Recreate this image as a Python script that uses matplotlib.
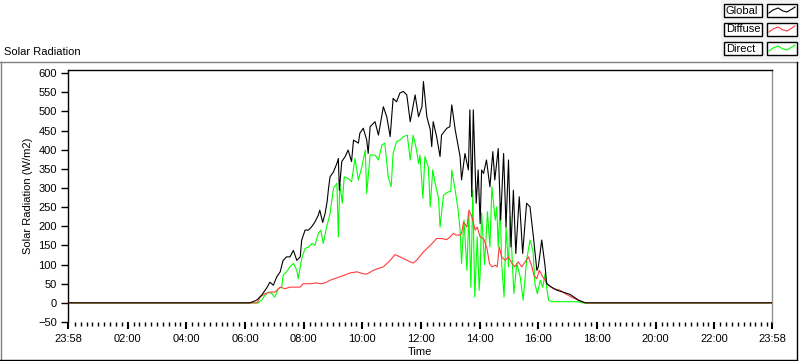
import matplotlib.pyplot as plt
from matplotlib.lines import Line2D
from matplotlib.patches import Rectangle
from matplotlib.ticker import FixedLocator, FuncFormatter

plt.rcParams['font.family'] = ['Liberation Sans', 'DejaVu Sans']

# time in minutes after midnight, values in W/m2
global_t = [-2, 370, 384, 394, 404, 411, 418, 425, 432, 438, 445, 452, 459, 466, 473, 476,
            483, 490, 496, 503, 510, 513, 519, 524, 528, 531, 534, 541, 548, 551, 553, 558,
            565, 571, 578, 582, 592, 595, 602, 609, 612, 616, 626, 633, 643, 650, 657, 663,
            670, 677, 684, 691, 698, 708, 715, 722, 725, 732, 739, 742, 745, 752, 759, 762,
            773, 779, 783, 790, 800, 803, 810, 817, 820, 824, 827, 833, 837, 841, 844, 848,
            854, 861, 867, 871, 878, 883, 889, 894, 899, 904, 909, 914, 921, 928, 936, 943,
            950, 957, 960, 967, 974, 977, 987, 998, 1011, 1025, 1042, 1052, 1056, 1438]
global_v = [0, 0, 7, 20, 38, 54, 46, 68, 81, 111, 120, 120, 137, 111, 120, 164,
            190, 190, 198, 211, 229, 242, 210, 234, 264, 300, 329, 342, 364, 377, 294, 369,
            382, 399, 369, 425, 417, 443, 456, 425, 390, 460, 473, 438, 512, 486, 434, 534,
            525, 548, 552, 543, 473, 543, 486, 512, 578, 486, 452, 408, 473, 434, 382, 438,
            456, 460, 517, 452, 382, 321, 390, 347, 504, 277, 504, 260, 347, 207, 347, 338,
            373, 303, 395, 321, 403, 216, 390, 198, 373, 146, 294, 129, 277, 129, 260, 251,
            172, 85, 94, 164, 94, 50, 41, 33, 28, 22, 7, 2, 0, 0]

diffuse_t = [-2, 385, 391, 401, 411, 421, 432, 442, 452, 473, 479, 493, 507, 514, 524, 534,
             554, 575, 589, 602, 609, 623, 633, 643, 657, 667, 677, 687, 698, 704, 711, 725,
             739, 752, 762, 773, 779, 786, 792, 800, 803, 807, 814, 818, 824, 831, 835, 841,
             848, 855, 860, 865, 872, 876, 880, 885, 892, 899, 906, 912, 919, 926, 933, 940,
             947, 951, 957, 962, 969, 974, 981, 991, 1004, 1015, 1028, 1042, 1052, 1056, 1438]
diffuse_v = [0, 0, 15, 24, 28, 28, 41, 37, 41, 41, 50, 50, 52, 50, 52, 59,
             68, 78, 81, 76, 75, 85, 90, 94, 111, 126, 120, 114, 107, 104, 111, 133,
             150, 168, 168, 165, 172, 181, 177, 177, 181, 211, 198, 242, 225, 190, 198, 172,
             168, 142, 103, 94, 98, 94, 146, 120, 111, 120, 103, 94, 107, 94, 107, 120,
             94, 72, 63, 85, 68, 59, 46, 37, 33, 24, 15, 7, 2, 0, 0]

direct_t = [-2, 387, 394, 401, 408, 415, 421, 428, 435, 438, 445, 452, 459, 466, 469, 476,
            483, 490, 497, 503, 510, 515, 520, 527, 534, 541, 548, 551, 554, 559, 563, 571,
            578, 585, 592, 599, 606, 609, 616, 626, 633, 640, 646, 653, 659, 663, 670, 677,
            684, 692, 698, 704, 711, 715, 718, 724, 728, 735, 739, 744, 749, 756, 759, 766,
            776, 781, 783, 790, 796, 800, 803, 808, 814, 818, 822, 826, 830, 835, 839, 841,
            844, 850, 856, 861, 865, 872, 875, 878, 882, 885, 890, 894, 899, 902, 906, 910,
            916, 923, 929, 936, 943, 949, 953, 958, 964, 969, 974, 977, 981, 988, 1018, 1042,
            1049, 1438]
direct_v = [0, 0, 7, 20, 28, 24, 15, 37, 41, 72, 81, 94, 103, 85, 63, 116,
            142, 146, 155, 150, 181, 190, 155, 198, 233, 299, 312, 172, 312, 260, 329, 325,
            316, 377, 321, 355, 399, 286, 386, 386, 373, 412, 417, 329, 303, 390, 421, 425,
            434, 438, 373, 438, 399, 364, 386, 273, 382, 355, 251, 347, 312, 273, 198, 281,
            290, 290, 347, 294, 242, 190, 103, 216, 85, 233, 41, 294, 15, 172, 33, 76,
            235, 100, 238, 146, 303, 216, 251, 146, 260, 103, 15, 198, 94, 225, 129, 24,
            103, 68, 7, 111, 164, 137, 50, 24, 59, 41, 76, 41, 7, 3, 3, 3,
            0, 0]

series_names = ['Global', 'Diffuse', 'Direct']
series_colors = ['black', '#ff3c3c', '#00ff00']

y_ticks = list(range(-50, 601, 50))
x_major = [-2, 120, 240, 360, 480, 600, 720, 840, 960, 1080, 1200, 1320, 1438]


def clock(x, pos=None):
    m = int(round(x)) % 1440
    return f'{m // 60:02d}:{m % 60:02d}'


W, H = 800, 361
fig = plt.figure(figsize=(W / 100, H / 100), dpi=100)


def fx(px):
    return px / W


def fy(py):
    return 1 - py / H


ax = fig.add_axes([fx(68), fy(322), fx(772) - fx(68), fy(70) - fy(322)])

# global drawn last so the zero baseline stays black
ax.plot(direct_t, direct_v, color=series_colors[2], lw=0.8, zorder=2)
ax.plot(diffuse_t, diffuse_v, color=series_colors[1], lw=0.8, zorder=3)
ax.plot(global_t, global_v, color=series_colors[0], lw=0.8, zorder=4)

ax.set_xlim(-2, 1438)
ax.set_ylim(-50, 608)

ax.set_yticks(y_ticks)
ax.tick_params(axis='y', direction='out', length=5, width=1, pad=3, labelsize=8)
ax.xaxis.set_major_locator(FixedLocator(x_major))
minor = [m for m in range(12, 1438, 12) if m % 120 != 0]
ax.xaxis.set_minor_locator(FixedLocator(minor))
ax.xaxis.set_major_formatter(FuncFormatter(clock))
ax.tick_params(axis='x', which='major', direction='out', length=5, width=1.5, pad=4, labelsize=8)
ax.tick_params(axis='x', which='minor', direction='out', length=3, width=1)

ax.spines['bottom'].set_visible(False)
ax.spines['right'].set_color('#909090')
for s in ['left', 'top']:
    ax.spines[s].set_color('black')
for s in ax.spines.values():
    s.set_linewidth(1)

ax.set_xlabel('Time', fontsize=8, labelpad=2)
ax.set_ylabel('Solar Radiation (W/m2)', fontsize=8, labelpad=4)

fig.text(fx(4), fy(52), 'Solar Radiation', fontsize=8, ha='left', va='center')

# outer frame
fig.add_artist(Rectangle((fx(721), fy(60)), fx(79), fy(0) - fy(60),
                         transform=fig.transFigure, facecolor='#f3f3f3', edgecolor='none', zorder=0))
fig.add_artist(Line2D([fx(0), fx(797)], [fy(61.5), fy(61.5)], transform=fig.transFigure, color='#808080', lw=1))
fig.add_artist(Line2D([fx(0.5), fx(0.5)], [fy(61.5), fy(359.5)], transform=fig.transFigure, color='#808080', lw=1))
fig.add_artist(Line2D([fx(0), fx(797)], [fy(359.5), fy(359.5)], transform=fig.transFigure, color='black', lw=1))
fig.add_artist(Line2D([fx(796.5), fx(796.5)], [fy(61.5), fy(359.5)], transform=fig.transFigure, color='black', lw=1))

# legend
zig_dx = [2, 6, 11, 16, 20, 25, 28]
zig_dy = [9, 6, 4, 7, 8, 5, 3]
for i, (name, col) in enumerate(zip(series_names, series_colors)):
    top = 4 + i * 19
    fig.add_artist(Rectangle((fx(724), fy(top + 13)), fx(38), fy(top) - fy(top + 13),
                             transform=fig.transFigure, facecolor='white', edgecolor='black', lw=1))
    fig.text(fx(726), fy(top + 6.5), name, fontsize=8, ha='left', va='center')
    fig.add_artist(Rectangle((fx(767), fy(top + 13)), fx(30), fy(top) - fy(top + 13),
                             transform=fig.transFigure, facecolor='white', edgecolor='black', lw=1))
    fig.add_artist(Line2D([fx(767 + d) for d in zig_dx], [fy(top + d) for d in zig_dy],
                          transform=fig.transFigure, color=col, lw=0.8))

fig.savefig('out.png', dpi=100)
